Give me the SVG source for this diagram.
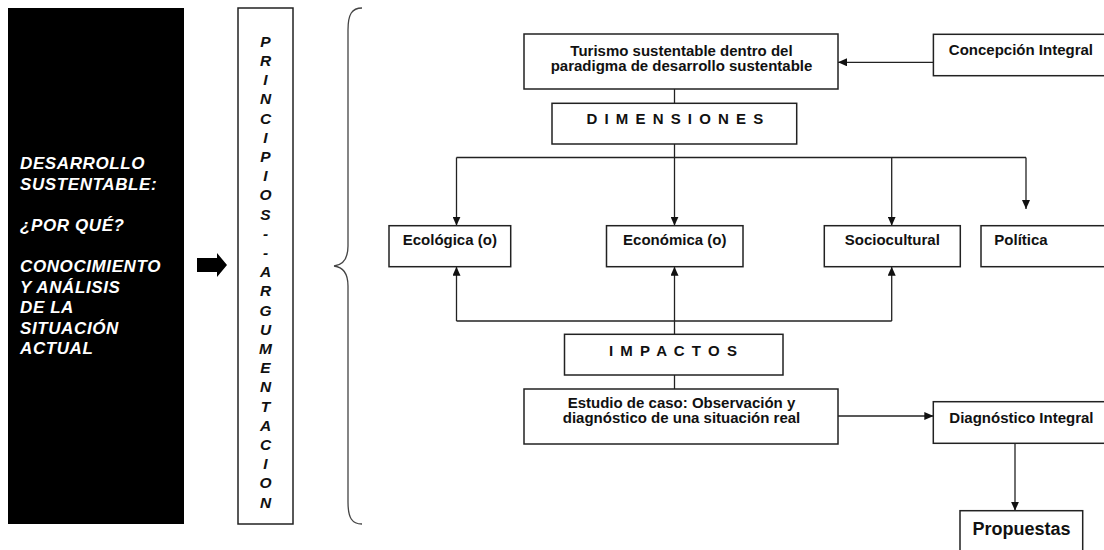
<svg xmlns="http://www.w3.org/2000/svg" width="1104" height="550" viewBox="0 0 1104 550">
<style>
text{font-family:"Liberation Sans",Arial,sans-serif;font-weight:bold;fill:#111}
.box{fill:#fff;stroke:#222;stroke-width:1.5}
.t15{font-size:15px}
.mid{text-anchor:middle}
.wide{letter-spacing:1.5px}
.side{font-size:17px;font-style:italic;fill:#fff;letter-spacing:0.6px}
.vert{font-size:15.5px;font-style:italic;text-anchor:middle}
.con line,.con path{stroke:#222;stroke-width:1.3;fill:none}
</style>
<defs>
<marker id="ah" viewBox="0 0 9 8" refX="9" refY="4" markerWidth="9" markerHeight="8" markerUnits="userSpaceOnUse" orient="auto">
<path d="M0,0 L9,4 L0,8 z" fill="#111"/>
</marker>
</defs>
<rect width="1104" height="550" fill="#fff"/>

<g id="desarrollo">
<rect x="8" y="8" width="176" height="516" fill="#000"/>
<text class="side" x="20" y="169">DESARROLLO</text>
<text class="side" x="20" y="189.6">SUSTENTABLE:</text>
<text class="side" x="20" y="230.8">¿POR QUÉ?</text>
<text class="side" x="20" y="272">CONOCIMIENTO</text>
<text class="side" x="20" y="292.6">Y ANÁLISIS</text>
<text class="side" x="20" y="313.2">DE LA</text>
<text class="side" x="20" y="333.8">SITUACIÓN</text>
<text class="side" x="20" y="354.4">ACTUAL</text>
</g>

<g id="block-arrow">
<path d="M197,258 H217 V253 L227,265 L217,277 V272 H197 Z" fill="#000"/>
</g>

<g id="principios">
<rect class="box" x="238" y="8" width="55" height="516"/>
<text class="vert" x="265.5" y="46.7">P</text>
<text class="vert" x="265.5" y="65.9">R</text>
<text class="vert" x="265.5" y="85.1">I</text>
<text class="vert" x="265.5" y="104.3">N</text>
<text class="vert" x="265.5" y="123.5">C</text>
<text class="vert" x="265.5" y="142.7">I</text>
<text class="vert" x="265.5" y="161.9">P</text>
<text class="vert" x="265.5" y="181.1">I</text>
<text class="vert" x="265.5" y="200.3">O</text>
<text class="vert" x="265.5" y="219.5">S</text>
<text class="vert" x="265.5" y="238.7">-</text>
<text class="vert" x="265.5" y="257.9">-</text>
<text class="vert" x="265.5" y="277.1">A</text>
<text class="vert" x="265.5" y="296.3">R</text>
<text class="vert" x="265.5" y="315.5">G</text>
<text class="vert" x="265.5" y="334.7">U</text>
<text class="vert" x="265.5" y="353.9">M</text>
<text class="vert" x="265.5" y="373.1">E</text>
<text class="vert" x="265.5" y="392.3">N</text>
<text class="vert" x="265.5" y="411.5">T</text>
<text class="vert" x="265.5" y="430.7">A</text>
<text class="vert" x="265.5" y="449.9">C</text>
<text class="vert" x="265.5" y="469.1">I</text>
<text class="vert" x="265.5" y="488.3">O</text>
<text class="vert" x="265.5" y="507.5">N</text>
</g>

<g id="brace">
<path d="M362,8 C352,8 348,14 348,30 L348,246 C348,259 343,265 334,266 C343,267 348,273 348,286 L348,502 C348,518 352,524 362,524" fill="none" stroke="#444" stroke-width="1.3"/>
</g>

<g class="con" id="connectors">
<line x1="933.4" y1="62.3" x2="838" y2="62.3" marker-end="url(#ah)"/>
<line x1="674.5" y1="89" x2="674.5" y2="103.3"/>
<line x1="674.5" y1="144" x2="674.5" y2="225.7" marker-end="url(#ah)"/>
<line x1="456.5" y1="157.5" x2="1026" y2="157.5"/>
<line x1="456.5" y1="157.5" x2="456.5" y2="225.7" marker-end="url(#ah)"/>
<line x1="891.7" y1="157.5" x2="891.7" y2="225.7" marker-end="url(#ah)"/>
<line x1="1026" y1="157.5" x2="1026" y2="209" marker-end="url(#ah)"/>
<line x1="456.5" y1="321" x2="891.7" y2="321"/>
<line x1="456.5" y1="321" x2="456.5" y2="266.7" marker-end="url(#ah)"/>
<line x1="674.5" y1="334.3" x2="674.5" y2="266.7" marker-end="url(#ah)"/>
<line x1="891.7" y1="321" x2="891.7" y2="266.7" marker-end="url(#ah)"/>
<line x1="674.5" y1="375" x2="674.5" y2="389"/>
<line x1="838" y1="416" x2="933.3" y2="416" marker-end="url(#ah)"/>
<line x1="1015" y1="443.3" x2="1015" y2="510.7" marker-end="url(#ah)"/>
</g>

<g id="turismo">
<rect class="box" x="524" y="34" width="314" height="55"/>
<text class="t15 mid" x="681.5" y="55.5">Turismo sustentable dentro del</text>
<text class="t15 mid" x="681.5" y="70.5">paradigma de desarrollo sustentable</text>
</g>

<g id="concepcion">
<rect class="box" x="933.4" y="34.3" width="180" height="41.4"/>
<text class="t15" x="948.8" y="55">Concepción Integral</text>
</g>

<g id="dimensiones">
<rect class="box" x="552" y="103.3" width="244.7" height="40.7"/>
<text class="t15 wide" x="586.5" y="124">D I M E N S I O N E S</text>
</g>

<g id="ecologica">
<rect class="box" x="389" y="225.7" width="121.7" height="41"/>
<text class="t15 mid" x="449.8" y="244.7">Ecológica (o)</text>
</g>

<g id="economica">
<rect class="box" x="606.5" y="225.7" width="136.5" height="41"/>
<text class="t15 mid" x="674.8" y="244.7">Económica (o)</text>
</g>

<g id="sociocultural">
<rect class="box" x="824.3" y="225.7" width="136" height="41"/>
<text class="t15 mid" x="892.3" y="244.7">Sociocultural</text>
</g>

<g id="politica">
<rect class="box" x="981" y="225.7" width="140" height="41"/>
<text class="t15" x="994.3" y="244.7">Política</text>
</g>

<g id="impactos">
<rect class="box" x="564.5" y="334.3" width="218.5" height="40.7"/>
<text class="t15 wide" x="609" y="355.7">I M P A C T O S</text>
</g>

<g id="estudio">
<rect class="box" x="524" y="389" width="314" height="55"/>
<text class="t15 mid" x="681.5" y="408.3">Estudio de caso: Observación y</text>
<text class="t15 mid" x="681.5" y="423.3">diagnóstico de una situación real</text>
</g>

<g id="diagnostico">
<rect class="box" x="933.3" y="401.7" width="180" height="41.6"/>
<text class="t15" x="949.3" y="422.5">Diagnóstico Integral</text>
</g>

<g id="propuestas">
<rect class="box" x="960" y="510.7" width="122.7" height="50"/>
<text x="1021.5" y="535" font-size="18" text-anchor="middle">Propuestas</text>
</g>
</svg>
